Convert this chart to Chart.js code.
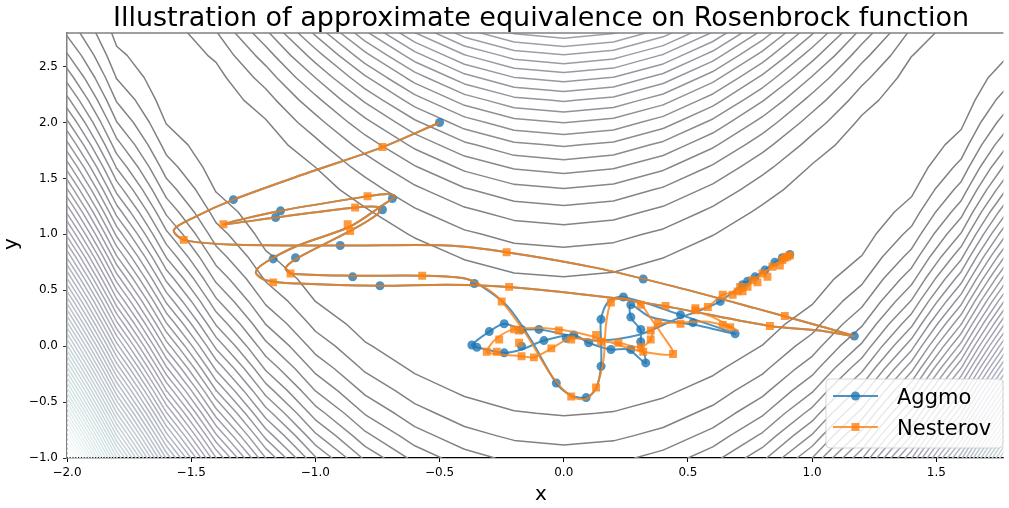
<!DOCTYPE html>
<html>
<head>
<meta charset="utf-8">
<script src="https://cdn.jsdelivr.net/npm/chart.js@4.4.1/dist/chart.umd.min.js"></script>
<style>
  html, body { margin: 0; padding: 0; background: #fff; }
  canvas { display: block; }
</style>
</head>
<body>
<canvas id="chart" width="1009" height="508"></canvas>
<script>
// Contour background: Rosenbrock function sampled on a coarse grid
const gridX = [-2.0, -1.8, -1.6, -1.4, -1.2, -1.0, -0.8, -0.6, -0.4, -0.2, 0.0, 0.2, 0.4, 0.6, 0.8, 1.0, 1.2, 1.4, 1.6, 1.8, 2.0];
const gridY = [-1.0, -0.8, -0.6, -0.4, -0.2, 0.0, 0.2, 0.4, 0.6, 0.8, 1.0, 1.2, 1.4, 1.6, 1.8, 2.0, 2.2, 2.4, 2.6, 2.8, 3.0];
const contourLevels = [40, 80, 120, 160, 200, 240, 280, 320, 360, 400, 440, 480, 520, 560, 600, 640, 680, 720, 760, 800,
  840, 880, 920, 960, 1000, 1040, 1080, 1120, 1160, 1200, 1240, 1280, 1320, 1360, 1400, 1440, 1480, 1520, 1560, 1600,
  1640, 1680, 1720, 1760, 1800, 1840, 1880, 1920, 1960, 2000, 2040, 2080, 2120, 2160, 2200, 2240, 2280, 2320, 2360, 2400,
  2440, 2480];

// Nesterov trajectory (full path) and its plotted markers
const nesterovPathX = [-0.50, -0.73, -1.03, -1.33, -1.49, -1.57, -1.53, -1.35, -0.87, -0.47, -0.23, 0.13, 0.45, 0.77, 1.03, 1.17, 1.03, 0.83, 0.45, 0.20,
  -0.22, -0.47, -0.74, -1.07, -1.20, -1.24, -1.20, -1.07, -0.86, -0.73, -0.68, -0.71, -0.79, -1.14, -1.37, -1.16, -0.84, -0.74, -0.75, -0.86,
  -1.07, -1.12, -1.10, -0.85, -0.57, -0.39, -0.30, -0.25, -0.15, -0.05, 0.03, 0.09, 0.13, 0.16, 0.17, 0.19, 0.23, 0.31, 0.35, 0.40,
  0.44, 0.32, 0.22, 0.13, -0.02, -0.20, -0.27, -0.31, -0.27, -0.17, -0.12, -0.05, 0.03, 0.15, 0.22, 0.31, 0.35, 0.37, 0.47, 0.57,
  0.67, 0.70, 0.60, 0.53, 0.58, 0.64, 0.72, 0.76, 0.80, 0.84, 0.88, 0.91];
const nesterovPathY = [2.00, 1.78, 1.55, 1.31, 1.15, 1.04, 0.95, 0.91, 0.90, 0.90, 0.84, 0.70, 0.53, 0.34, 0.18, 0.09, 0.14, 0.18, 0.34, 0.43,
  0.53, 0.55, 0.54, 0.56, 0.59, 0.66, 0.75, 0.90, 1.07, 1.26, 1.34, 1.36, 1.34, 1.21, 1.09, 1.15, 1.24, 1.24, 1.18, 1.03,
  0.79, 0.70, 0.65, 0.63, 0.63, 0.60, 0.50, 0.40, 0.10, -0.26, -0.45, -0.47, -0.37, -0.12, 0.19, 0.39, 0.43, 0.37, 0.25, 0.09,
  -0.07, -0.05, 0.01, 0.08, 0.15, 0.15, 0.07, -0.05, -0.07, -0.09, -0.10, -0.02, 0.07, 0.04, 0.03, -0.01, 0.06, 0.19, 0.21, 0.22,
  0.17, 0.14, 0.26, 0.32, 0.35, 0.46, 0.49, 0.59, 0.65, 0.71, 0.77, 0.82];
const nesterovMarkX = [-0.73, -1.37, -1.53, -0.79, -0.84, -0.87, -0.86, -1.10, -1.17, -0.57, -0.23, 0.83, 0.89, -0.22, -0.25, 0.03, 0.13, 0.19, 0.31, 0.41,
  0.53, 0.58, 0.64, 0.68, 0.71, 0.64, 0.67, -0.20, -0.18, -0.26, -0.31, -0.27, -0.18, -0.17, -0.12, -0.05, -0.02, 0.03, 0.13, 0.15,
  0.22, 0.31, 0.32, 0.35, 0.35, 0.38, 0.47, 0.44, 0.53, 0.72, 0.76, 0.80, 0.84, 0.88, 0.90, 0.78, 0.82, 0.87, 0.89, 0.91, 0.74, 0.70];
const nesterovMarkY = [1.78, 1.09, 0.95, 1.34, 1.24, 1.09, 1.03, 0.65, 0.57, 0.63, 0.84, 0.18, 0.27, 0.53, 0.40, -0.45, -0.37, 0.39, 0.37, 0.36,
  0.34, 0.35, 0.46, 0.46, 0.53, 0.19, 0.17, 0.15, 0.14, 0.06, -0.05, -0.05, 0.03, -0.09, -0.10, -0.02, 0.14, 0.06, 0.10, 0.04,
  0.03, -0.01, -0.05, 0.06, 0.14, 0.21, 0.20, -0.07, 0.32, 0.49, 0.59, 0.65, 0.71, 0.77, 0.80, 0.57, 0.62, 0.72, 0.79, 0.81, 0.53, 0.49];

// Aggmo trajectory (full path) and its plotted markers
const aggmoPathX = [-0.50, -0.73, -1.03, -1.33, -1.49, -1.57, -1.53, -1.35, -0.87, -0.47, -0.23, 0.13, 0.45, 0.77, 1.03, 1.17, 1.03, 0.83, 0.45, 0.20,
  -0.22, -0.47, -0.74, -1.07, -1.20, -1.24, -1.20, -1.07, -0.86, -0.73, -0.68, -0.71, -0.79, -1.14, -1.37, -1.16, -0.84, -0.74, -0.75, -0.86,
  -1.07, -1.12, -1.10, -0.85, -0.57, -0.39, -0.30, -0.22, -0.13, -0.03, 0.03, 0.09, 0.13, 0.15, 0.15, 0.15, 0.18, 0.24, 0.47, 0.69,
  0.55, 0.35, 0.27, 0.27, 0.31, 0.31, 0.33, 0.26, 0.19, 0.10, 0.04, -0.08, -0.17, -0.24, -0.35, -0.37, -0.30, -0.24, -0.17, -0.10,
  0.01, 0.12, 0.30, 0.45, 0.56, 0.63, 0.72, 0.77, 0.81, 0.85, 0.91];
const aggmoPathY = [2.00, 1.78, 1.55, 1.31, 1.15, 1.04, 0.95, 0.91, 0.90, 0.90, 0.84, 0.70, 0.53, 0.34, 0.18, 0.09, 0.14, 0.18, 0.34, 0.43,
  0.53, 0.55, 0.54, 0.56, 0.59, 0.66, 0.75, 0.90, 1.07, 1.26, 1.34, 1.36, 1.34, 1.21, 1.09, 1.15, 1.24, 1.24, 1.18, 1.03,
  0.79, 0.70, 0.65, 0.63, 0.63, 0.60, 0.49, 0.34, 0.05, -0.33, -0.44, -0.46, -0.38, -0.18, 0.05, 0.24, 0.40, 0.44, 0.28, 0.11,
  0.18, 0.26, 0.37, 0.26, 0.14, 0.04, -0.15, -0.03, -0.03, 0.03, 0.10, 0.05, -0.03, -0.06, -0.01, 0.01, 0.13, 0.20, 0.15, 0.15,
  0.10, 0.05, 0.10, 0.24, 0.33, 0.40, 0.55, 0.62, 0.68, 0.75, 0.82];
const aggmoMarkX = [-0.50, -1.33, -1.14, -1.16, -0.69, -0.73, -0.90, -1.17, -1.08, -0.85, -0.74, -0.36, 1.17, 0.32, -0.03, 0.09, 0.15, 0.15, 0.24, 0.27,
  0.27, 0.31, 0.31, 0.33, 0.27, 0.19, 0.10, 0.04, 0.01, -0.08, -0.17, -0.24, -0.35, -0.37, -0.30, -0.24, -0.17, -0.10, 0.47, 0.52,
  0.69, 0.63, 0.72, 0.77, 0.81, 0.85, 0.91, 0.88, 0.74];
const aggmoMarkY = [2.00, 1.31, 1.21, 1.15, 1.32, 1.22, 0.90, 0.78, 0.79, 0.62, 0.54, 0.56, 0.09, 0.60, -0.33, -0.46, -0.18, 0.24, 0.44, 0.37,
  0.26, 0.15, 0.04, -0.15, -0.03, -0.03, 0.03, 0.10, 0.07, 0.05, 0.00, -0.06, -0.01, 0.01, 0.13, 0.20, 0.15, 0.15, 0.28, 0.21,
  0.11, 0.40, 0.55, 0.62, 0.68, 0.75, 0.82, 0.79, 0.58];

const TITLE = 'Illustration of approximate equivalence on Rosenbrock function';
const BLUE = 'rgba(31,119,180,0.8)';
const ORANGE = 'rgba(255,127,14,0.8)';

function rosen(x, y) { return (1 - x) ** 2 + 100 * (y - x * x) ** 2; }

// matplotlib 'bone' colormap, drawn at alpha 0.5 over white
function boneColor(t) {
  const r = t < 0.746032 ? t * 0.652778 / 0.746032 : 0.652778 + (t - 0.746032) / 0.253968 * 0.347222;
  const g = t < 0.365079 ? t * 0.319444 / 0.365079
    : t < 0.746032 ? 0.319444 + (t - 0.365079) / 0.380953 * 0.463068 : 0.782512 + (t - 0.746032) / 0.253968 * 0.217488;
  const b = t < 0.365079 ? t * 0.444444 / 0.365079 : 0.444444 + (t - 0.365079) / 0.634921 * 0.555556;
  const m = v => Math.round(255 * (0.5 * v + 0.5));
  return `rgb(${m(r)},${m(g)},${m(b)})`;
}

const Z = gridY.map(y => gridX.map(x => rosen(x, y)));

// marching squares -> segments separated by gaps
function contourPoints(level) {
  const out = [];
  const edge = (za, zb, xa, ya, xb, yb) => {
    if ((za < level) === (zb < level)) return null;
    const t = (level - za) / (zb - za);
    return { x: xa + t * (xb - xa), y: ya + t * (yb - ya) };
  };
  const push = (a, b) => { out.push(a, b, { x: NaN, y: NaN }); };
  for (let j = 0; j < gridY.length - 1; j++) {
    for (let i = 0; i < gridX.length - 1; i++) {
      const x0 = gridX[i], x1 = gridX[i + 1], y0 = gridY[j], y1 = gridY[j + 1];
      const z00 = Z[j][i], z10 = Z[j][i + 1], z11 = Z[j + 1][i + 1], z01 = Z[j + 1][i];
      const e = [edge(z00, z10, x0, y0, x1, y0), edge(z10, z11, x1, y0, x1, y1),
                 edge(z11, z01, x1, y1, x0, y1), edge(z01, z00, x0, y1, x0, y0)];
      const hit = e.filter(p => p);
      if (hit.length === 2) push(hit[0], hit[1]);
      else if (hit.length === 4) {
        const c = (z00 + z10 + z11 + z01) / 4;
        if ((c < level) === (z00 < level)) { push(e[0], e[1]); push(e[2], e[3]); }
        else { push(e[0], e[3]); push(e[1], e[2]); }
      }
    }
  }
  return out;
}

const lo = contourLevels[0], hi = contourLevels[contourLevels.length - 1];
const contourSets = contourLevels.map(L => ({
  data: contourPoints(L),
  showLine: true,
  borderColor: boneColor((L - lo) / (hi - lo)),
  borderWidth: 1.5,
  borderCapStyle: 'round',
  borderJoinStyle: 'round',
  pointRadius: 0,
  order: 100,
}));

const toPts = (xs, ys) => xs.map((x, i) => ({ x, y: ys[i] }));

const datasets = [
  ...contourSets,
  { label: 'Aggmo', data: toPts(aggmoPathX, aggmoPathY), showLine: true, borderColor: BLUE, borderWidth: 2, tension: 0.3, pointRadius: 0, order: 4 },
  { label: 'Aggmo', data: toPts(aggmoMarkX, aggmoMarkY), showLine: false, pointStyle: 'circle', pointRadius: 4.5, pointBackgroundColor: BLUE, pointBorderWidth: 0, order: 3 },
  { label: 'Nesterov', data: toPts(nesterovPathX, nesterovPathY), showLine: true, borderColor: ORANGE, borderWidth: 2, tension: 0.3, pointRadius: 0, order: 2 },
  { label: 'Nesterov', data: toPts(nesterovMarkX, nesterovMarkY), showLine: false, pointStyle: 'rect', pointRadius: 5.6, pointBackgroundColor: ORANGE, pointBorderWidth: 0, order: 1 },
];

const fmt = v => Number(v).toFixed(1).replace('-', '\u2212');

// title, axis labels, top spine and legend
const decor = {
  id: 'decor',
  afterDraw(chart) {
    const { ctx, chartArea: a } = chart;
    ctx.save();
    ctx.strokeStyle = '#808080';
    ctx.lineWidth = 1.5;
    ctx.beginPath(); ctx.moveTo(a.left, a.top); ctx.lineTo(a.right, a.top); ctx.stroke();

    ctx.fillStyle = '#000';
    ctx.textAlign = 'center';
    ctx.textBaseline = 'alphabetic';
    ctx.font = '27px "DejaVu Sans"';
    ctx.fillText(TITLE, 541, 26);
    ctx.font = '20px "DejaVu Sans"';
    ctx.fillText('x', 541, 500);
    ctx.save();
    ctx.translate(17, 244);
    ctx.rotate(-Math.PI / 2);
    ctx.fillText('y', 0, 0);
    ctx.restore();

    // legend
    const lx = 826, ly = 379, lw = 177, lh = 69;
    ctx.beginPath();
    ctx.roundRect(lx, ly, lw, lh, 4);
    ctx.fillStyle = 'rgba(255,255,255,0.8)';
    ctx.fill();
    ctx.strokeStyle = 'rgba(204,204,204,0.8)';
    ctx.lineWidth = 1;
    ctx.stroke();
    const rows = [
      { text: 'Aggmo', color: BLUE, y: 396, style: 'circle' },
      { text: 'Nesterov', color: ORANGE, y: 427, style: 'rect' },
    ];
    rows.forEach(r => {
      ctx.strokeStyle = r.color;
      ctx.lineWidth = 2;
      ctx.beginPath(); ctx.moveTo(833, r.y); ctx.lineTo(878, r.y); ctx.stroke();
      ctx.fillStyle = r.color;
      if (r.style === 'circle') { ctx.beginPath(); ctx.arc(855.5, r.y, 4.5, 0, Math.PI * 2); ctx.fill(); }
      else ctx.fillRect(851.5, r.y - 4, 8, 8);
      ctx.fillStyle = '#000';
      ctx.textAlign = 'left';
      ctx.font = '21px "DejaVu Sans"';
      ctx.fillText(r.text, 897, r.y + 8);
    });
    ctx.restore();
  }
};

new Chart(document.getElementById('chart'), {
  type: 'scatter',
  data: { datasets },
  options: {
    responsive: false,
    animation: false,
    devicePixelRatio: 1,
    events: [],
    layout: { padding: { top: 33, right: 0, left: 0, bottom: 0 } },
    plugins: { legend: { display: false }, tooltip: { enabled: false }, title: { display: false } },
    scales: {
      x: {
        type: 'linear', min: -2, max: 1.77,
        afterFit: s => { s.height = 50; },
        ticks: { stepSize: 0.5, includeBounds: false, callback: fmt, color: '#000', font: { family: 'DejaVu Sans', size: 12 }, padding: 4, maxRotation: 0 },
        grid: { drawOnChartArea: false, drawTicks: true, tickLength: 4, color: '#000' },
        border: { display: true, color: '#000', width: 1.2 },
      },
      y: {
        type: 'linear', min: -1, max: 2.8,
        afterFit: s => { s.width = 67; },
        ticks: { stepSize: 0.5, includeBounds: false, callback: fmt, color: '#000', font: { family: 'DejaVu Sans', size: 12 }, padding: 5 },
        grid: { drawOnChartArea: false, drawTicks: true, tickLength: 4, color: '#333' },
        border: { display: true, color: '#808080', width: 1.5 },
      },
    },
  },
  plugins: [decor],
});
</script>
</body>
</html>
